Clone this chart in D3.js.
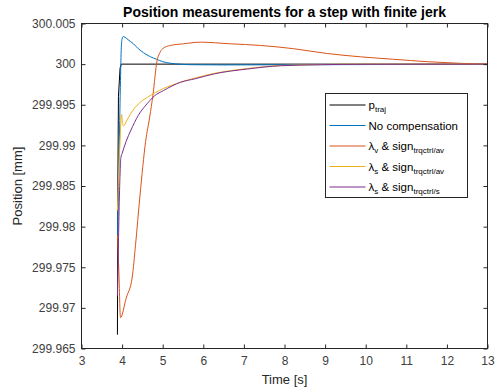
<!DOCTYPE html>
<html><head><meta charset="utf-8">
<script src="https://cdn.jsdelivr.net/npm/d3@7"></script>
<style>body{margin:0;background:#fff}</style></head>
<body><svg id="c" width="498" height="389"></svg>
<script>
// ---- data ----
const xTicks = [3,4,5,6,7,8,9,10,11,12,13];
const yTicks = [299.965,299.97,299.975,299.98,299.985,299.99,299.995,300,300.005];
const yTickLabels = ["299.965","299.97","299.975","299.98","299.985","299.99","299.995","300","300.005"];

const tTraj = [3.885,3.895,3.91,3.95,3.98,13];
const pTraj = [299.9667,299.985,299.996,299.9995,300,300];

const tNoComp = [3.885,3.93,3.96,3.98,4.0,4.03,4.07,4.15,4.28,4.4,4.53,4.7,4.85,5.0,5.2,5.4,5.7,6.5,8,9.5,11,13];
const pNoComp = [299.979,299.990,299.998,300.002,300.0031,300.0034,300.0033,300.0030,300.0025,300.0019,300.0014,300.0009,300.0006,300.0003,300.0001,300.0,299.99993,299.9999,299.99992,299.99994,299.99996,299.99997];

const tLamV = [3.885,3.92,3.96,4.1,4.25,4.33,4.44,4.58,4.68,4.76,4.86,4.92,5.0,5.19,5.51,5.93,6.67,7.41,8.22,9.06,9.87,10.68,11.52,12.33,13];
const pLamV = [299.979,299.9745,299.9688,299.9712,299.9738,299.9777,299.9838,299.9905,299.9935,299.9962,300.0004,300.0013,300.0019,300.0023,300.0025,300.0027,300.0025,300.0023,300.0019,300.0013,300.0009,300.0006,300.0003,300.0001,300.0];

const tLamSav = [3.885,3.92,3.95,3.975,3.99,4.01,4.04,4.1,4.21,4.4,4.62,5.02,5.44,5.8,6.25,7.09,7.9,8.89,10,13];
const pLamSav = [299.982,299.987,299.9905,299.9935,299.9938,299.9926,299.9924,299.9929,299.9939,299.9951,299.9959,299.9970,299.99777,299.9983,299.99884,299.99946,299.99983,299.99995,300.0,300.0];

const tLamSs = [3.885,3.91,3.93,3.95,3.97,4.0,4.1,4.21,4.4,4.62,4.8,5.02,5.44,5.8,6.25,7.09,7.9,8.89,10,13];
const pLamSs = [299.9715,299.978,299.983,299.9865,299.9885,299.9890,299.9905,299.9918,299.9937,299.99515,299.9961,299.99675,299.99777,299.9982,299.99878,299.9994,299.9998,299.99993,299.99998,300.0];

const seriesColors = ["#000000","#0072BD","#D95319","#EDB120","#7E2F8E"];

// ---- layout ----
const svg = d3.select("#c");
const L = 81.5, R = 487.5, T = 23.5, B = 348.5;
const font = "'Liberation Sans', Arial, Helvetica, sans-serif";
const x = d3.scaleLinear().domain([3,13]).range([L,R]);
const y = d3.scaleLinear().domain([299.965,300.005]).range([B,T]);

svg.append("defs").append("clipPath").attr("id","pc")
  .append("rect").attr("x",L).attr("y",T).attr("width",R-L).attr("height",B-T);

const series = [
  [tTraj,pTraj],[tNoComp,pNoComp],[tLamV,pLamV],[tLamSav,pLamSav],[tLamSs,pLamSs]
];
const curves = [d3.curveLinear, d3.curveMonotoneX, d3.curveMonotoneX, d3.curveMonotoneX, d3.curveMonotoneX];
const g = svg.append("g").attr("clip-path","url(#pc)");
series.forEach((s,i)=>{
  const pts = s[0].map((t,k)=>[t,s[1][k]]);
  const line = d3.line().x(d=>x(d[0])).y(d=>y(d[1])).curve(curves[i]);
  g.append("path").attr("d",line(pts)).attr("fill","none")
   .attr("stroke",seriesColors[i]).attr("stroke-width",1);
});

// axes box
const axCol = "#262626";
svg.append("rect").attr("x",L).attr("y",T).attr("width",R-L).attr("height",B-T)
  .attr("fill","none").attr("stroke",axCol).attr("stroke-width",1);

const tl = 4;
const gx = svg.append("g").attr("transform",`translate(0,${B})`)
  .call(d3.axisBottom(x).tickValues(xTicks).tickSizeInner(-tl).tickSizeOuter(0).tickPadding(8));
const gxt = svg.append("g").attr("transform",`translate(0,${T})`)
  .call(d3.axisTop(x).tickValues(xTicks).tickSizeInner(-tl).tickSizeOuter(0).tickFormat(""));
const gy = svg.append("g").attr("transform",`translate(${L},0)`)
  .call(d3.axisLeft(y).tickValues(yTicks).tickSizeInner(-tl).tickSizeOuter(0).tickPadding(6)
  .tickFormat((d,i)=>yTickLabels[i]));
const gyr = svg.append("g").attr("transform",`translate(${R},0)`)
  .call(d3.axisRight(y).tickValues(yTicks).tickSizeInner(-tl).tickSizeOuter(0).tickFormat(""));
[gx,gxt,gy,gyr].forEach(a=>{
  a.select(".domain").remove();
  a.selectAll("line").attr("stroke",axCol);
  a.selectAll("text").attr("fill","#404040").style("font-family",font).style("font-size","12px");
});

// title & labels
svg.append("text").attr("x",(L+R)/2).attr("y",17).attr("text-anchor","middle")
  .style("font-family",font).style("font-size","14px").style("font-weight","bold")
  .attr("fill","#000").text("Position measurements for a step with finite jerk");
svg.append("text").attr("x",(L+R)/2).attr("y",384).attr("text-anchor","middle")
  .style("font-family",font).style("font-size","13px").attr("fill","#262626").text("Time [s]");
svg.append("text").attr("transform",`translate(22,${(T+B)/2}) rotate(-90)`).attr("text-anchor","middle")
  .style("font-family",font).style("font-size","13px").attr("fill","#262626").text("Position [mm]");

// legend
const lx = 325.5, ly = 93.5, lw = 142, lh = 104;
svg.append("rect").attr("x",lx).attr("y",ly).attr("width",lw).attr("height",lh)
  .attr("fill","#fff").attr("stroke",axCol).attr("stroke-width",1);
const legendItems = [
  [["p",0],["traj",1]],
  [["No compensation",0]],
  [["λ",0],["v",1],[" & sign",0],["trqctrl/av",1]],
  [["λ",0],["s",1],[" & sign",0],["trqctrl/av",1]],
  [["λ",0],["s",1],[" & sign",0],["trqctrl/s",1]]
];
legendItems.forEach((parts,i)=>{
  const yy = ly + 11.5 + i*20.5;
  svg.append("line").attr("x1",lx+4).attr("x2",lx+40).attr("y1",yy).attr("y2",yy)
    .attr("stroke",seriesColors[i]).attr("stroke-width",1);
  const t = svg.append("text").attr("x",lx+43).attr("y",yy+4)
    .style("font-family",font).style("font-size","11.5px").attr("fill","#000");
  let sub = 0;
  parts.forEach(p=>{
    const ts = t.append("tspan").text(p[0]);
    if (p[1]) { ts.style("font-size","8px"); if (!sub) { ts.attr("dy",3); sub = 1; } }
    else if (sub) { ts.attr("dy",-3); sub = 0; }
  });
});
</script></body></html>
